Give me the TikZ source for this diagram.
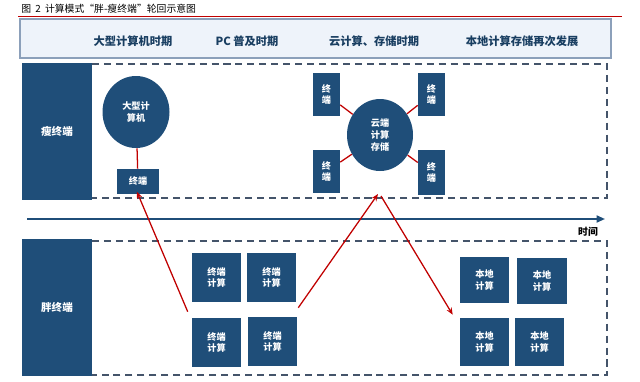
\documentclass[tikz,border=0pt]{standalone}
\usepackage{fontspec}
\setmainfont{Noto Sans CJK SC}
\usepackage{tikz}
\usetikzlibrary{shapes.geometric, arrows.meta, calc}
\definecolor{navy}{RGB}{31,78,121}
\definecolor{dashgray}{RGB}{68,84,106}
\definecolor{headfill}{RGB}{238,243,250}
\definecolor{headline}{RGB}{140,160,186}
\definecolor{arrowred}{RGB}{192,0,0}
\newcommand{\pxu}{0.025cm}
\tikzset{
  bluebox/.style={fill=navy, text=white, align=center, inner sep=0pt,
    font=\fontsize{6.5}{8.3}\selectfont\bfseries},
  boxsize/.style 2 args={minimum width=#1*\pxu, minimum height=#2*\pxu}
}
\tikzset{
  sidebox/.style={bluebox, boxsize={70}{137}, font=\fontsize{7.5}{9}\selectfont\bfseries},
  headtext/.style={text=navy!80!black, font=\fontsize{8}{9}\selectfont\bfseries},
  zone/.style={draw=dashgray, line width=0.8pt, dash pattern=on 5pt off 3.5pt},
  redlink/.style={draw=arrowred, line width=0.9pt},
  redarrow/.style={redlink, -{Stealth[length=5pt, width=4pt]}}
}

\begin{document}
\begin{tikzpicture}[x=0.025cm, y=-0.025cm]
      \useasboundingbox (0,0) rectangle (640,382);
      % title and header band
      \node[anchor=west, inner sep=0pt, font=\fontsize{7}{8}\selectfont] (title) at (21,9) {图\hspace{3pt}2\hspace{3pt}计算模式“胖-瘦终端”轮回示意图};
      \draw[arrowred, line width=0.6pt] (18,16) -- (622,16);
      \draw[fill=headfill, draw=headline, line width=1.2pt] (20,19) rectangle (611,58);
      \node[headtext] (era1) at (133,41) {大型计算机时期};
      \node[headtext] (era2) at (247,41) {PC 普及时期};
      \node[headtext] (era3) at (374,41) {云计算、存储时期};
      \node[headtext] (era4) at (522,41) {本地计算存储再次发展};
      % thin terminal zone
      \draw[zone] (92,64) -- (607,64) -- (607,198) -- (92,198);
      \node[sidebox] (thin) at (57,131.5) {瘦终端};
      \node[bluebox, ellipse, boxsize={67}{72}] (mainframe) at (136,112) {大型计\\算机};
      \node[bluebox, boxsize={42}{25}] (dumb) at (138,181.5) {终端};
      \draw[redlink] (mainframe) -- (dumb);
      \node[bluebox, ellipse, boxsize={66}{72}] (cloud) at (380,135) {云端\\计算\\存储};
      \node[bluebox, boxsize={27}{43}] (ct1) at (326.5,94.5) {终\\端};
      \node[bluebox, boxsize={27}{43}] (ct2) at (431.5,94.5) {终\\端};
      \node[bluebox, boxsize={27}{43}] (ct3) at (326.5,171.5) {终\\端};
      \node[bluebox, boxsize={27}{45}] (ct4) at (431.5,172.5) {终\\端};
      \foreach \t in {ct1, ct2, ct3, ct4}
        \draw[redlink] (cloud) -- (\t);
      % time axis
      \coordinate (axisL) at (27,219);
      \coordinate (axisR) at (605,219);
      \draw[navy, line width=1.3pt, -{Triangle[length=6pt, width=5pt]}] (axisL) -- (axisR);
      \node[font=\fontsize{7}{8}\selectfont\bfseries] (timelbl) at (588,232) {时间};
      % fat terminal zone
      \draw[zone] (92,241) -- (607,241) -- (607,375) -- (92,375);
      \node[sidebox] (fat) at (57,307.5) {胖终端};
      \node[bluebox, boxsize={49}{49}] (pc1) at (216.5,277.5) {终端\\计算};
      \node[bluebox, boxsize={49}{49}] (pc2) at (271.5,277.5) {终端\\计算};
      \node[bluebox, boxsize={49}{49}] (pc3) at (216.5,342.5) {终端\\计算};
      \node[bluebox, boxsize={49}{49}] (pc4) at (272.5,341.5) {终端\\计算};
      \node[bluebox, boxsize={49}{46}] (loc1) at (484.5,280) {本地\\计算};
      \node[bluebox, boxsize={50}{46}] (loc2) at (542,281) {本地\\计算};
      \node[bluebox, boxsize={49}{48}] (loc3) at (484.5,342) {本地\\计算};
      \node[bluebox, boxsize={49}{48}] (loc4) at (539.5,342) {本地\\计算};
      % cycle arrows
      \coordinate (peak) at (378,194);
      \draw[redarrow, shorten >=-2pt] ($(pc3.north west)+(-4,-6)$) -- (dumb.south);
      \draw[redarrow] ($(pc4.north east)+(1,-9)$) -- (peak);
      \draw[redarrow] ($(peak)+(3,2)$) -- ($(loc3.north west)+(-7,-3)$);
    \end{tikzpicture}
\end{document}
